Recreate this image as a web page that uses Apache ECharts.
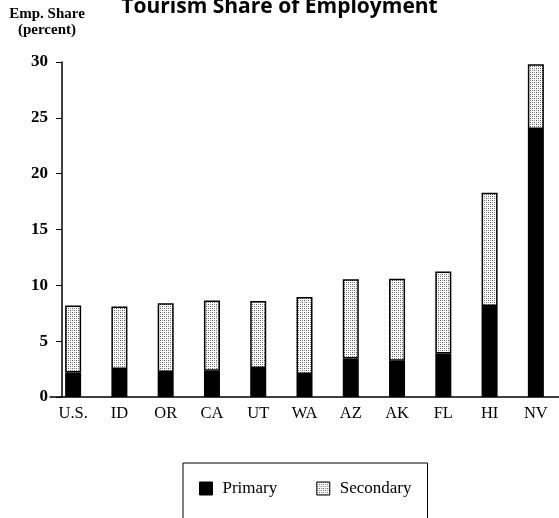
<!DOCTYPE html>
<html>
<head>
<meta charset="utf-8">
<script src="https://cdn.jsdelivr.net/npm/echarts@6/dist/echarts.min.js"></script>
<style>
html,body{margin:0;padding:0;background:#fff;}
#chart{width:559px;height:518px;}
</style>
</head>
<body>
<div id="chart"></div>
<script>
var categories = ['U.S.', 'ID', 'OR', 'CA', 'UT', 'WA', 'AZ', 'AK', 'FL', 'HI', 'NV'];
var primary =   [2.2, 2.5, 2.25, 2.35, 2.6, 2.05, 3.45, 3.25, 3.9, 8.15, 24.0];
var secondary = [6.0, 5.6, 6.15, 6.3, 6.0, 6.9, 7.1, 7.35, 7.35, 10.15, 5.8];
var yTicks = [0, 5, 10, 15, 20, 25, 30];

function makePattern() {
  var c = document.createElement('canvas');
  c.width = 4; c.height = 4;
  var ctx = c.getContext('2d');
  ctx.fillStyle = '#ffffff';
  ctx.fillRect(0, 0, 4, 4);
  ctx.fillStyle = '#555555';
  ctx.fillRect(0, 0, 1, 1);
  ctx.fillRect(2, 2, 1, 1);
  ctx.fillStyle = '#999999';
  ctx.fillRect(2, 0, 1, 1);
  ctx.fillRect(0, 2, 1, 1);
  return c;
}
var pattern = { image: makePattern(), repeat: 'repeat' };

var chart = echarts.init(document.getElementById('chart'), null, {renderer: 'canvas'});
var serif = '"Liberation Serif", "DejaVu Serif", serif';
chart.setOption({
  animation: false,
  backgroundColor: '#ffffff',
  title: {
    text: 'Tourism Share of Employment',
    left: 'center',
    top: -3,
    padding: 0,
    textStyle: {fontFamily: '"Open Sans", sans-serif', fontWeight: 'bold', fontSize: 21, color: '#000'}
  },
  grid: {left: 50, right: 0, top: 62, bottom: 121, containLabel: false},
  legend: {
    left: 183,
    top: 463,
    orient: 'horizontal',
    borderColor: '#000',
    borderWidth: 1,
    padding: [17, 16, 40, 16],
    itemGap: 39,
    itemWidth: 13,
    itemHeight: 13,
    icon: 'rect',
    textStyle: {fontFamily: serif, fontSize: 17, color: '#000', padding: [0, 0, 0, 5]},
    data: [
      {name: 'Primary', itemStyle: {color: '#000', borderColor: '#000', borderWidth: 1}},
      {name: 'Secondary', itemStyle: {color: pattern, borderColor: '#000', borderWidth: 1}}
    ]
  },
  xAxis: {
    type: 'category',
    data: categories,
    axisLine: {show: true, lineStyle: {color: '#000', width: 1.5}},
    axisTick: {show: false},
    axisLabel: {fontFamily: serif, fontSize: 16.5, color: '#000', margin: 8}
  },
  yAxis: {
    type: 'value',
    min: 0,
    max: 30,
    interval: 5,
    offset: -12,
    name: 'Emp. Share\n(percent)',
    nameLocation: 'end',
    nameGap: 24,
    nameTextStyle: {fontFamily: serif, fontSize: 15, fontWeight: 'bold', color: '#000', align: 'center', lineHeight: 16, padding: [0, 30, 0, 0]},
    axisLine: {show: true, lineStyle: {color: '#000', width: 1.5}},
    axisTick: {show: true, inside: false, length: 6, lineStyle: {color: '#000', width: 1}},
    splitLine: {show: false},
    axisLabel: {fontFamily: serif, fontSize: 17, fontWeight: 'bold', color: '#000', margin: 14,
      formatter: function (v) { return yTicks.indexOf(v) >= 0 ? String(v) : ''; }}
  },
  series: [
    {
      name: 'Primary',
      type: 'bar',
      stack: 'total',
      barWidth: 16,
      data: primary,
      itemStyle: {color: '#000', borderColor: '#000', borderWidth: 1.5}
    },
    {
      name: 'Secondary',
      type: 'bar',
      stack: 'total',
      barWidth: 16,
      data: secondary,
      itemStyle: {color: pattern, borderColor: '#000', borderWidth: 1.5}
    }
  ]
});
</script>
</body>
</html>
